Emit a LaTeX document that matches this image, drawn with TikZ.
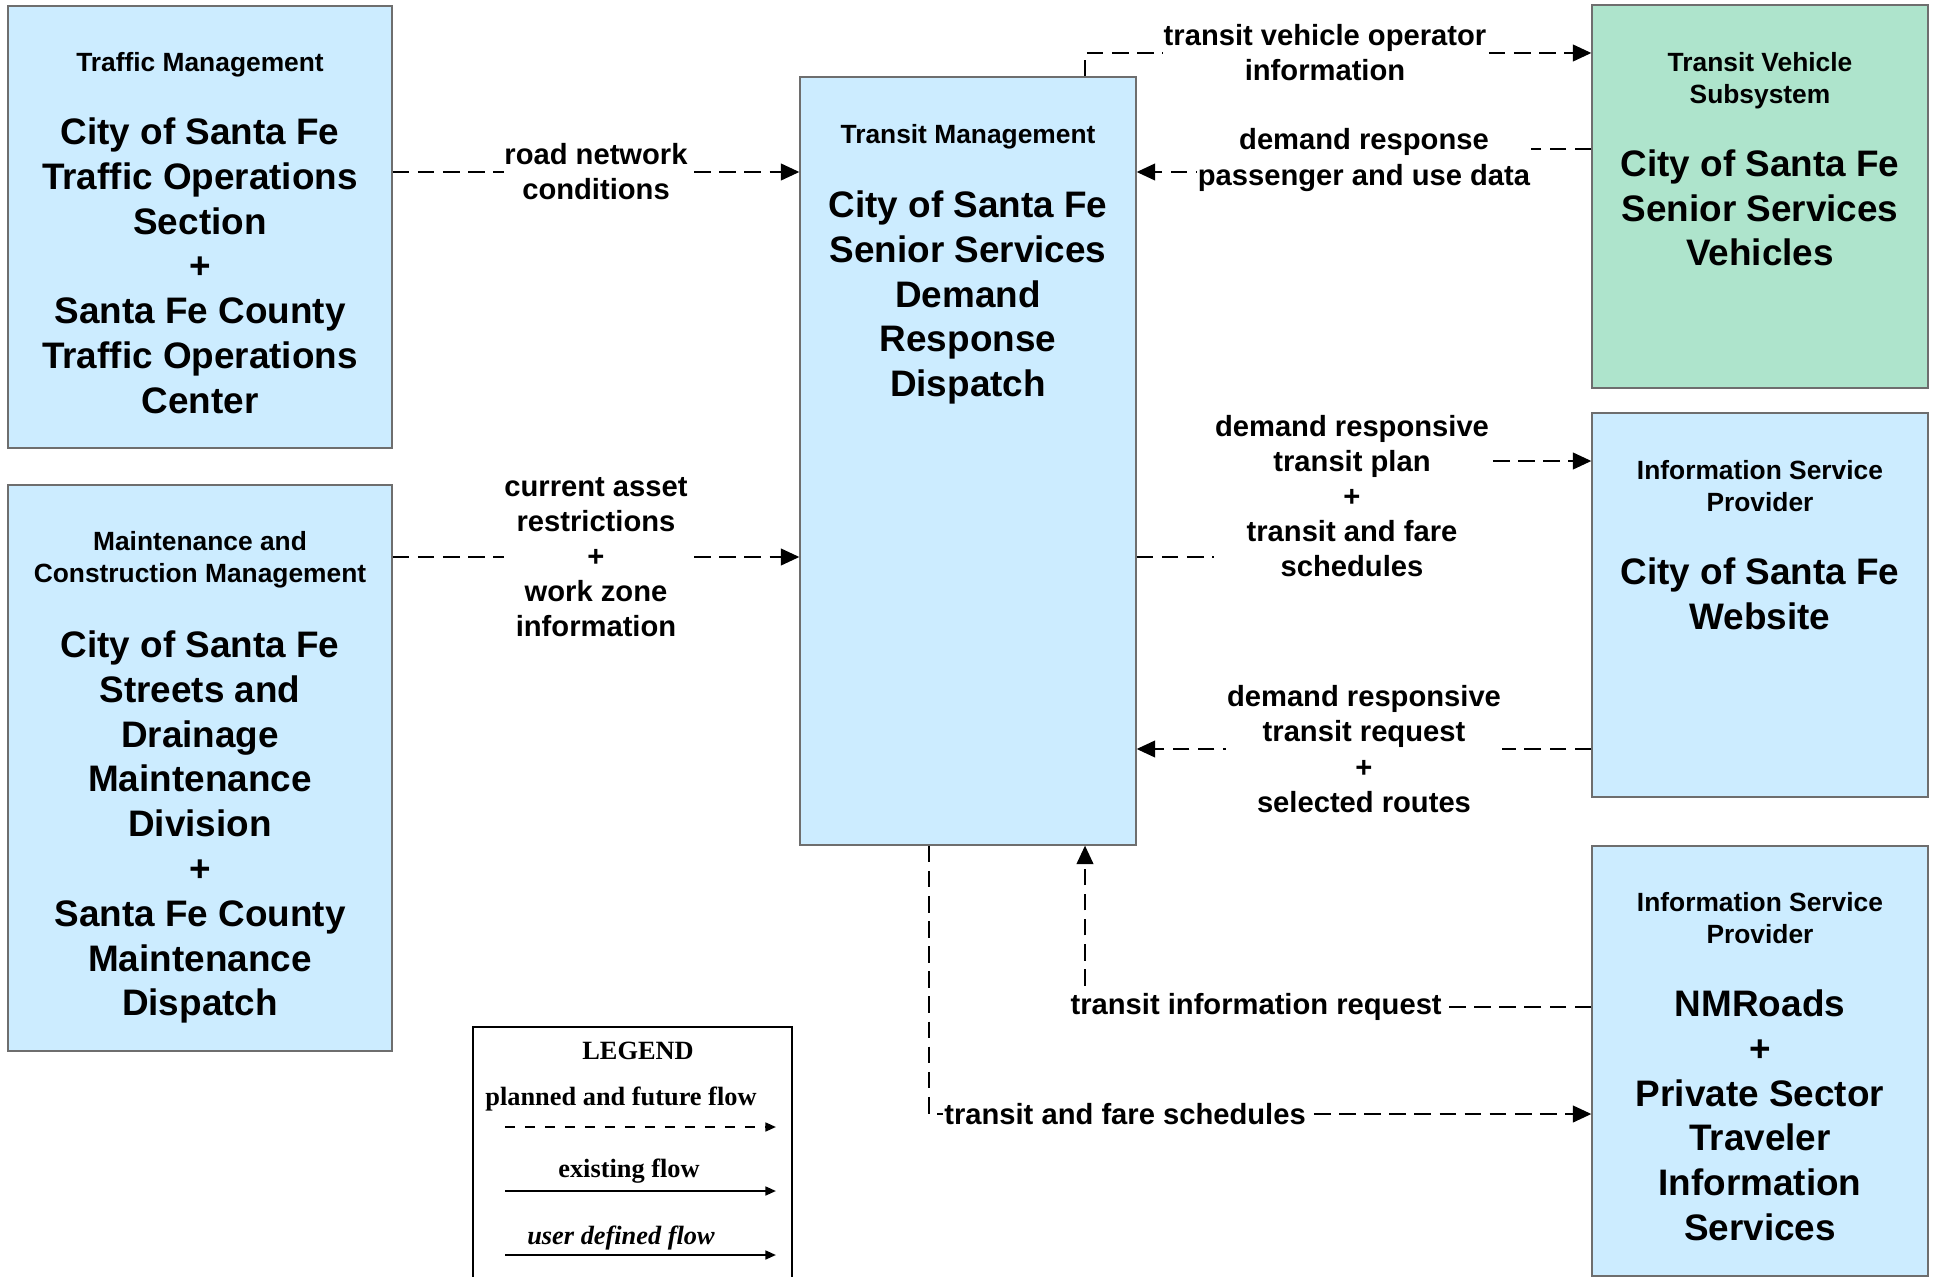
\documentclass[tikz,border=0pt]{standalone}
\usepackage{fontspec}
\setmainfont{Liberation Sans}
\newfontfamily\legendfont{Liberation Serif}
\usetikzlibrary{positioning,arrows.meta}

\definecolor{boxblue}{RGB}{204,236,255}
\definecolor{boxgreen}{RGB}{174,228,204}
\definecolor{boxline}{RGB}{110,110,110}

\tikzset{
  sysbox/.style={draw=boxline, line width=0.8pt, fill=boxblue, minimum width=6.72cm, inner sep=0pt},
  hdrtext/.style={align=center, inner sep=0pt, font=\fontsize{15}{18.1}\selectfont\bfseries},
  bodytext/.style={align=center, inner sep=0pt, font=\fontsize{21}{25.5}\selectfont\bfseries},
  flow/.style={line width=1.1pt, dash pattern=on 9.5pt off 4.8pt, -{Triangle[length=10.5pt,width=9.5pt]}},
  flowlabel/.style={fill=white, align=center, inner sep=0.5pt, font=\fontsize{16.6}{20}\selectfont\bfseries},
  legtext/.style={inner sep=0pt, font=\legendfont\fontsize{15}{18}\selectfont\bfseries},
  legflow/.style={line width=1.2pt, -{Triangle[length=6pt,width=5pt]}}
}

\begin{document}
\begin{tikzpicture}[x=0.02cm,y=-0.02cm]
  \useasboundingbox (0,0) rectangle (1937,1277);

  % boxes
  \node[sysbox, minimum width=7.68cm, minimum height=8.84cm] (tr) at (200,227) {};
  \node[hdrtext, below=0.94cm of tr.north] (trh) {Traffic Management};
  \node[bodytext, below=2.24cm of tr.north] (trb) {City of Santa Fe\\Traffic Operations\\Section\\+\\Santa Fe County\\Traffic Operations\\Center};

  \node[sysbox, minimum width=7.68cm, minimum height=11.32cm] (mc) at (200,768) {};
  \node[hdrtext, below=0.94cm of mc.north] (mch) {Maintenance and\\Construction Management};
  \node[bodytext, below=2.92cm of mc.north] (mcb) {City of Santa Fe\\Streets and\\Drainage\\Maintenance\\Division\\+\\Santa Fe County\\Maintenance\\Dispatch};

  \node[sysbox, minimum height=15.36cm] (tm) at (968,461) {};
  \node[hdrtext, below=0.96cm of tm.north] (tmh) {Transit Management};
  \node[bodytext, below=2.28cm of tm.north] (tmb) {City of Santa Fe\\Senior Services\\Demand\\Response\\Dispatch};

  \node[sysbox, fill=boxgreen, minimum height=7.66cm] (tv) at (1760,196.5) {};
  \node[hdrtext, below=0.96cm of tv.north] (tvh) {Transit Vehicle\\Subsystem};
  \node[bodytext, below=2.9cm of tv.north] (tvb) {City of Santa Fe\\Senior Services\\Vehicles};

  \node[sysbox, minimum height=7.68cm] (isp) at (1760,605) {};
  \node[hdrtext, below=0.96cm of isp.north] (isph) {Information Service\\Provider};
  \node[bodytext, below=2.9cm of isp.north] (ispb) {City of Santa Fe\\Website};

  \node[sysbox, minimum height=8.6cm] (nm) at (1760,1061) {};
  \node[hdrtext, below=0.94cm of nm.north] (nmh) {Information Service\\Provider};
  \node[bodytext, below=2.88cm of nm.north] (nmb) {NMRoads\\+\\Private Sector\\Traveler\\Information\\Services};

  % flows
  \draw[flow] (tr.east |- 0,172) -- node[flowlabel] {road network\\conditions} (tm.west |- 0,172);
  \draw[flow] (mc.east |- 0,557) -- node[flowlabel] {current asset\\restrictions\\+\\work zone\\information} (tm.west |- 0,557);
  \draw[flow] (tm.north -| 1085,0) |- node[flowlabel, pos=0.737] {transit vehicle operator\\information} (tv.west |- 0,53);
  \draw[flow] (tv.west |- 0,149) -| (1364,160) node[flowlabel] {demand response\\passenger and use data} |- (tm.east |- 0,172);
  \draw[flow] (tm.east |- 0,557) -| (1352,496) node[flowlabel] {demand responsive\\transit plan\\+\\transit and fare\\schedules} |- (isp.west |- 0,461);
  \draw[flow] (isp.west |- 0,749) -- node[flowlabel] {demand responsive\\transit request\\+\\selected routes} (tm.east |- 0,749);
  \draw[flow] (nm.west |- 0,1007) -| node[flowlabel, pos=0.331] {transit information request} (tm.south -| 1085,0);
  \draw[flow] (tm.south -| 929,0) |- node[flowlabel, pos=0.648] {transit and fare schedules} (nm.west |- 0,1114);

  % legend
  \node[draw=black, line width=1.4pt, fill=white, minimum width=6.38cm, minimum height=5.46cm] (lg) at (632.5,1163.5) {};
  \node[legtext] (lgt) at (638,1051) {LEGEND};
  \node[legtext] (lgp) at (621,1099) {planned and future flow};
  \node[legtext] (lge) at (629,1171) {existing flow};
  \node[legtext] (lgu) at (621,1238) {\itshape user defined flow};
  \coordinate (p1) at (505,1127);
  \coordinate (p2) at (776,1127);
  \coordinate (e1) at (505,1191);
  \coordinate (e2) at (776,1191);
  \coordinate (u1) at (505,1255);
  \coordinate (u2) at (776,1255);
  \draw[legflow, dash pattern=on 5.7pt off 5.7pt] (p1) -- (p2);
  \draw[legflow] (e1) -- (e2);
  \draw[legflow] (u1) -- (u2);
\end{tikzpicture}
\end{document}
